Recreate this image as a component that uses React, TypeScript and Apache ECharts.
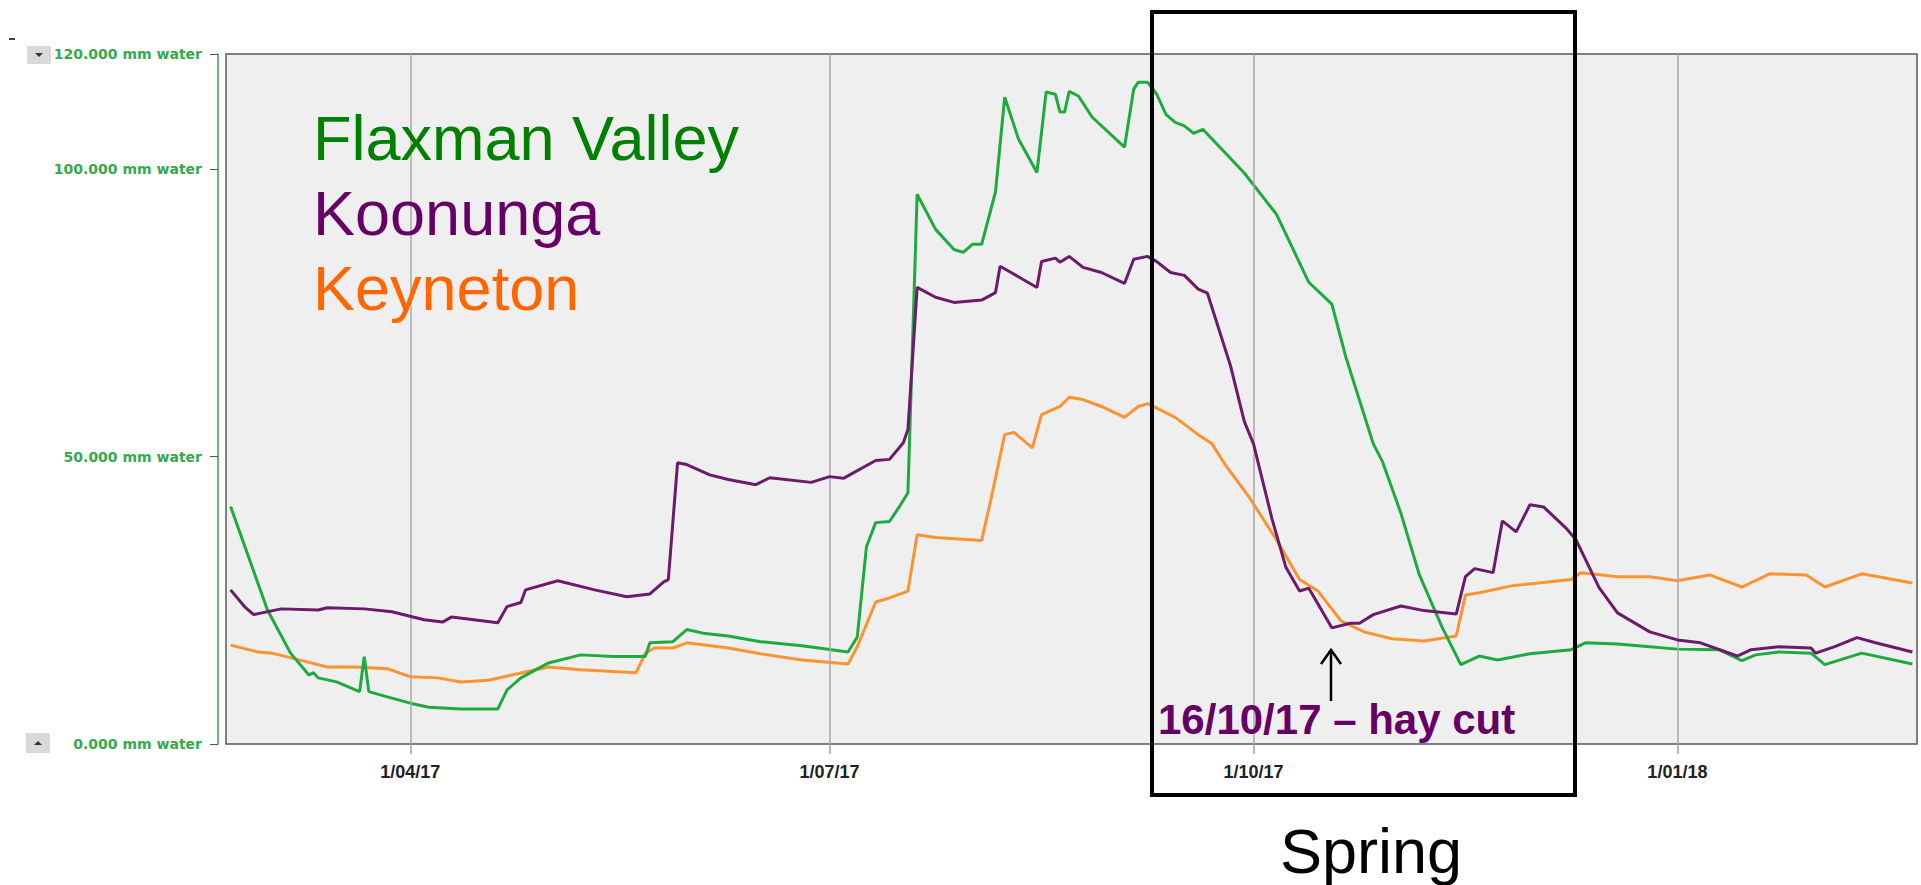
import React, { useEffect, useRef } from "react";
import * as echarts from "echarts";

// ---------- data ----------
const X_MIN = "2017-02-20";
const X_MAX = "2018-02-22";
const X_TICKS = ["2017-04-01", "2017-07-01", "2017-10-01", "2018-01-01"];
const X_TICK_LABELS = ["1/04/17", "1/07/17", "1/10/17", "1/01/18"];
const Y_TICKS = [0, 50, 100, 120];

const FLAXMAN: [string, number][] = [
  ["2017-02-21", 41.3], ["2017-03-01", 23.3], ["2017-03-06", 15.8], ["2017-03-10", 12.0],
  ["2017-03-11", 12.4], ["2017-03-12", 11.5], ["2017-03-16", 10.8], ["2017-03-21", 9.1],
  ["2017-03-22", 15.2], ["2017-03-23", 9.1], ["2017-03-27", 8.2], ["2017-04-01", 7.1],
  ["2017-04-05", 6.4], ["2017-04-12", 6.1], ["2017-04-20", 6.1], ["2017-04-22", 9.4],
  ["2017-04-25", 11.5], ["2017-05-01", 14.1], ["2017-05-08", 15.5], ["2017-05-15", 15.2],
  ["2017-05-22", 15.2], ["2017-05-23", 17.6], ["2017-05-28", 17.8], ["2017-05-31", 19.9],
  ["2017-06-04", 19.2], ["2017-06-09", 18.8], ["2017-06-16", 17.8], ["2017-06-25", 17.1],
  ["2017-07-05", 16.0], ["2017-07-07", 18.6], ["2017-07-09", 34.3], ["2017-07-11", 38.5],
  ["2017-07-14", 38.7], ["2017-07-16", 41.1], ["2017-07-18", 43.7], ["2017-07-20", 95.6],
  ["2017-07-24", 89.5], ["2017-07-28", 86.0], ["2017-07-30", 85.5], ["2017-08-01", 86.9],
  ["2017-08-03", 86.9], ["2017-08-06", 96.0], ["2017-08-08", 112.5], ["2017-08-11", 105.2],
  ["2017-08-15", 99.4], ["2017-08-17", 113.4], ["2017-08-19", 113.0], ["2017-08-20", 109.9],
  ["2017-08-21", 109.9], ["2017-08-22", 113.5], ["2017-08-24", 112.7], ["2017-08-27", 109.0],
  ["2017-09-03", 103.8], ["2017-09-05", 113.9], ["2017-09-06", 115.1], ["2017-09-08", 115.1],
  ["2017-09-10", 113.0], ["2017-09-12", 109.5], ["2017-09-14", 108.1], ["2017-09-16", 107.5],
  ["2017-09-18", 106.2], ["2017-09-20", 106.9], ["2017-09-29", 99.3], ["2017-10-06", 92.1],
  ["2017-10-13", 80.3], ["2017-10-18", 76.5], ["2017-10-21", 67.4], ["2017-10-27", 52.2],
  ["2017-10-29", 49.1], ["2017-11-02", 40.1], ["2017-11-06", 29.4], ["2017-11-11", 20.2],
  ["2017-11-15", 13.8], ["2017-11-19", 15.3], ["2017-11-23", 14.6], ["2017-11-30", 15.7],
  ["2017-12-09", 16.4], ["2017-12-12", 17.6], ["2017-12-19", 17.4], ["2017-12-26", 16.9],
  ["2018-01-01", 16.5], ["2018-01-10", 16.4], ["2018-01-15", 14.5], ["2018-01-18", 15.5],
  ["2018-01-23", 16.0], ["2018-01-30", 15.8], ["2018-02-02", 13.8], ["2018-02-10", 15.8],
  ["2018-02-21", 13.9],
];

const KOONUNGA: [string, number][] = [
  ["2017-02-21", 26.8], ["2017-02-24", 23.9], ["2017-02-26", 22.5], ["2017-03-04", 23.5],
  ["2017-03-12", 23.3], ["2017-03-14", 23.7], ["2017-03-22", 23.5], ["2017-03-28", 23.0],
  ["2017-04-04", 21.6], ["2017-04-08", 21.2], ["2017-04-10", 22.1], ["2017-04-20", 21.1],
  ["2017-04-22", 23.9], ["2017-04-25", 24.6], ["2017-04-26", 26.8], ["2017-05-03", 28.4],
  ["2017-05-11", 26.8], ["2017-05-18", 25.6], ["2017-05-23", 26.1], ["2017-05-26", 28.2],
  ["2017-05-27", 28.6], ["2017-05-29", 48.9], ["2017-05-31", 48.6], ["2017-06-05", 46.8],
  ["2017-06-09", 46.0], ["2017-06-15", 45.1], ["2017-06-18", 46.3], ["2017-06-27", 45.5],
  ["2017-07-01", 46.5], ["2017-07-04", 46.2], ["2017-07-11", 49.3], ["2017-07-14", 49.5],
  ["2017-07-17", 52.4], ["2017-07-18", 54.7], ["2017-07-20", 79.4], ["2017-07-24", 77.7],
  ["2017-07-28", 76.8], ["2017-08-03", 77.2], ["2017-08-06", 78.5], ["2017-08-07", 83.1],
  ["2017-08-15", 79.4], ["2017-08-16", 83.9], ["2017-08-19", 84.5], ["2017-08-20", 83.8],
  ["2017-08-22", 84.8], ["2017-08-25", 82.9], ["2017-08-29", 82.0], ["2017-09-03", 80.1],
  ["2017-09-05", 84.3], ["2017-09-08", 84.8], ["2017-09-10", 83.9], ["2017-09-13", 82.0],
  ["2017-09-16", 81.5], ["2017-09-19", 79.1], ["2017-09-21", 78.4], ["2017-09-26", 65.8],
  ["2017-09-29", 56.1], ["2017-10-01", 52.2], ["2017-10-05", 39.2], ["2017-10-08", 30.8],
  ["2017-10-11", 26.6], ["2017-10-13", 27.1], ["2017-10-18", 20.2], ["2017-10-22", 21.0],
  ["2017-10-24", 21.0], ["2017-10-27", 22.5], ["2017-11-02", 24.0], ["2017-11-07", 23.2],
  ["2017-11-14", 22.6], ["2017-11-16", 29.1], ["2017-11-18", 30.5], ["2017-11-22", 29.8],
  ["2017-11-24", 38.8], ["2017-11-27", 36.9], ["2017-11-30", 41.6], ["2017-12-03", 41.2],
  ["2017-12-08", 37.4], ["2017-12-10", 35.5], ["2017-12-15", 27.2], ["2017-12-19", 22.8],
  ["2017-12-26", 19.5], ["2018-01-01", 18.1], ["2018-01-06", 17.6], ["2018-01-14", 15.3],
  ["2018-01-17", 16.4], ["2018-01-23", 16.9], ["2018-01-30", 16.7], ["2018-01-31", 15.8],
  ["2018-02-04", 16.9], ["2018-02-09", 18.5], ["2018-02-13", 17.6], ["2018-02-21", 16.0],
];

const KEYNETON: [string, number][] = [
  ["2017-02-21", 17.2], ["2017-02-27", 16.0], ["2017-03-02", 15.8], ["2017-03-07", 14.8],
  ["2017-03-14", 13.4], ["2017-03-20", 13.4], ["2017-03-27", 13.1], ["2017-04-01", 11.7],
  ["2017-04-07", 11.5], ["2017-04-12", 10.8], ["2017-04-18", 11.1], ["2017-04-23", 12.0],
  ["2017-05-01", 13.4], ["2017-05-08", 12.9], ["2017-05-20", 12.4], ["2017-05-22", 15.8],
  ["2017-05-24", 16.7], ["2017-05-28", 16.7], ["2017-05-31", 17.6], ["2017-06-09", 16.7],
  ["2017-06-16", 15.7], ["2017-06-25", 14.6], ["2017-07-05", 13.9], ["2017-07-07", 16.9],
  ["2017-07-11", 24.7], ["2017-07-14", 25.4], ["2017-07-18", 26.6], ["2017-07-20", 36.4],
  ["2017-07-24", 35.9], ["2017-08-03", 35.4], ["2017-08-05", 42.5], ["2017-08-08", 53.8],
  ["2017-08-10", 54.2], ["2017-08-14", 51.5], ["2017-08-16", 57.3], ["2017-08-20", 58.7],
  ["2017-08-22", 60.3], ["2017-08-25", 59.9], ["2017-08-29", 58.7], ["2017-09-03", 56.8],
  ["2017-09-06", 58.7], ["2017-09-08", 59.2], ["2017-09-14", 56.8], ["2017-09-19", 53.8],
  ["2017-09-22", 52.2], ["2017-09-25", 48.4], ["2017-09-30", 43.0], ["2017-10-06", 35.5],
  ["2017-10-11", 28.6], ["2017-10-15", 26.6], ["2017-10-20", 21.4], ["2017-10-25", 19.5],
  ["2017-10-31", 18.3], ["2017-11-07", 17.9], ["2017-11-14", 18.8], ["2017-11-16", 25.9],
  ["2017-11-19", 26.3], ["2017-11-26", 27.5], ["2017-12-09", 28.6], ["2017-12-11", 29.8],
  ["2017-12-19", 29.1], ["2017-12-26", 29.1], ["2018-01-01", 28.4], ["2018-01-08", 29.4],
  ["2018-01-15", 27.3], ["2018-01-21", 29.6], ["2018-01-29", 29.4], ["2018-02-02", 27.3],
  ["2018-02-10", 29.6], ["2018-02-21", 28.0],
];

const SITE_NAMES = ["Flaxman Valley", "Koonunga", "Keyneton"];
const ANNOTATION = "16/10/17 \u2013 hay cut";
const SEASON = "Spring";

// ---------- helpers ----------
const toTime = (s: string) => {
  const [y, m, d] = s.split("-").map(Number);
  return new Date(y, m - 1, d).getTime();
};
const toSeries = (arr: [string, number][]) => arr.map(([d, v]) => [toTime(d), v]);

export default function App() {
  const ref = useRef<HTMLDivElement>(null);

  useEffect(() => {
    if (!ref.current) return;
    const chart = echarts.init(ref.current, undefined, { renderer: "svg" });
    const tickTimes = X_TICKS.map(toTime);
    const axisGreen = "#35a94b";

    const option: any = {
      animation: false,
      backgroundColor: "#ffffff",
      grid: {
        left: 226,
        right: 4,
        top: 54,
        bottom: 141,
        show: true,
        backgroundColor: "#efefef",
        borderColor: "#5a5a5a",
        borderWidth: 1.5,
      },
      xAxis: {
        type: "value",
        min: toTime(X_MIN),
        max: toTime(X_MAX),
        axisLine: { show: false },
        splitLine: { show: false },
        axisTick: {
          show: true,
          customValues: tickTimes,
          length: 10,
          lineStyle: { color: "#a0a0a0", width: 1.5 },
        },
        axisLabel: {
          customValues: tickTimes,
          margin: 19,
          fontFamily: "Liberation Sans",
          fontWeight: "bold",
          fontSize: 18,
          color: "#222222",
          formatter: (v: number) => {
            const i = tickTimes.indexOf(v);
            return i >= 0 ? X_TICK_LABELS[i] : "";
          },
        },
      },
      yAxis: {
        type: "value",
        min: 0,
        max: 120,
        offset: 8,
        axisLine: { show: true, lineStyle: { color: axisGreen, width: 1.5 } },
        axisTick: {
          show: true,
          customValues: Y_TICKS,
          length: 8,
          lineStyle: { color: "#555555", width: 1 },
        },
        splitLine: { show: false },
        axisLabel: {
          customValues: Y_TICKS,
          margin: 16,
          fontFamily: "DejaVu Sans",
          fontWeight: "bold",
          fontSize: 14,
          color: axisGreen,
          formatter: (v: number) => v.toFixed(3) + " mm water",
        },
      },
      series: [
        {
          name: "grid",
          type: "line",
          data: [],
          z: 1,
          silent: true,
          markLine: {
            silent: true,
            symbol: "none",
            label: { show: false },
            lineStyle: { color: "#a8a8a8", type: "solid", width: 1.5 },
            data: tickTimes.map((t) => ({ xAxis: t })),
          },
        },
        {
          name: SITE_NAMES[2],
          type: "line",
          data: toSeries(KEYNETON),
          showSymbol: false,
          z: 3,
          lineStyle: { color: "#fb9330", width: 3 },
          itemStyle: { color: "#fb9330" },
        },
        {
          name: SITE_NAMES[0],
          type: "line",
          data: toSeries(FLAXMAN),
          showSymbol: false,
          z: 4,
          lineStyle: { color: "#1eab3e", width: 3 },
          itemStyle: { color: "#1eab3e" },
        },
        {
          name: SITE_NAMES[1],
          type: "line",
          data: toSeries(KOONUNGA),
          showSymbol: false,
          z: 5,
          lineStyle: { color: "#6c1a6c", width: 3 },
          itemStyle: { color: "#6c1a6c" },
        },
      ],
      graphic: [
        { type: "line", shape: { x1: 9, y1: 39, x2: 15, y2: 39 }, style: { stroke: "#000", lineWidth: 1.5 } },
        { type: "rect", shape: { x: 27, y: 46, width: 24, height: 18 }, style: { fill: "#d9d9d9" } },
        { type: "polygon", shape: { points: [[35, 53], [43, 53], [39, 57]] }, style: { fill: "#333" } },
        { type: "rect", shape: { x: 26, y: 733, width: 24, height: 20 }, style: { fill: "#d9d9d9" } },
        { type: "polygon", shape: { points: [[34, 745], [42, 745], [38, 741]] }, style: { fill: "#333" } },
        {
          type: "text", x: 313, y: 138, z: 10,
          style: { text: SITE_NAMES[0], fill: "#008000", font: "63px 'Liberation Sans'", verticalAlign: "middle", align: "left" },
        },
        {
          type: "text", x: 313, y: 213, z: 10,
          style: { text: SITE_NAMES[1], fill: "#660066", font: "63px 'Liberation Sans'", verticalAlign: "middle", align: "left" },
        },
        {
          type: "text", x: 313, y: 288, z: 10,
          style: { text: SITE_NAMES[2], fill: "#ff6600", font: "63px 'Liberation Sans'", verticalAlign: "middle", align: "left" },
        },
        {
          type: "rect", z: 20,
          shape: { x: 1152, y: 12, width: 423, height: 783 },
          style: { fill: "none", stroke: "#000000", lineWidth: 4 },
        },
        { type: "line", z: 20, shape: { x1: 1331, y1: 701, x2: 1331, y2: 650 }, style: { stroke: "#000", lineWidth: 2.5 } },
        {
          type: "polyline", z: 20,
          shape: { points: [[1321, 664], [1331, 650], [1341, 664]] },
          style: { stroke: "#000", lineWidth: 2.5, fill: "none" },
        },
        {
          type: "text", x: 1158, y: 719, z: 20,
          style: { text: ANNOTATION, fill: "#660066", font: "bold 42px 'Liberation Sans'", verticalAlign: "middle", align: "left" },
        },
        {
          type: "text", x: 1371, y: 851, z: 20,
          style: { text: SEASON, fill: "#000000", font: "63px 'Liberation Sans'", verticalAlign: "middle", align: "center" },
        },
      ],
    };

    chart.setOption(option);
    return () => chart.dispose();
  }, []);

  return (
    <div
      ref={ref}
      style={{ position: "fixed", left: 0, top: 0, width: 1921, height: 885, background: "#fff" }}
    />
  );
}
